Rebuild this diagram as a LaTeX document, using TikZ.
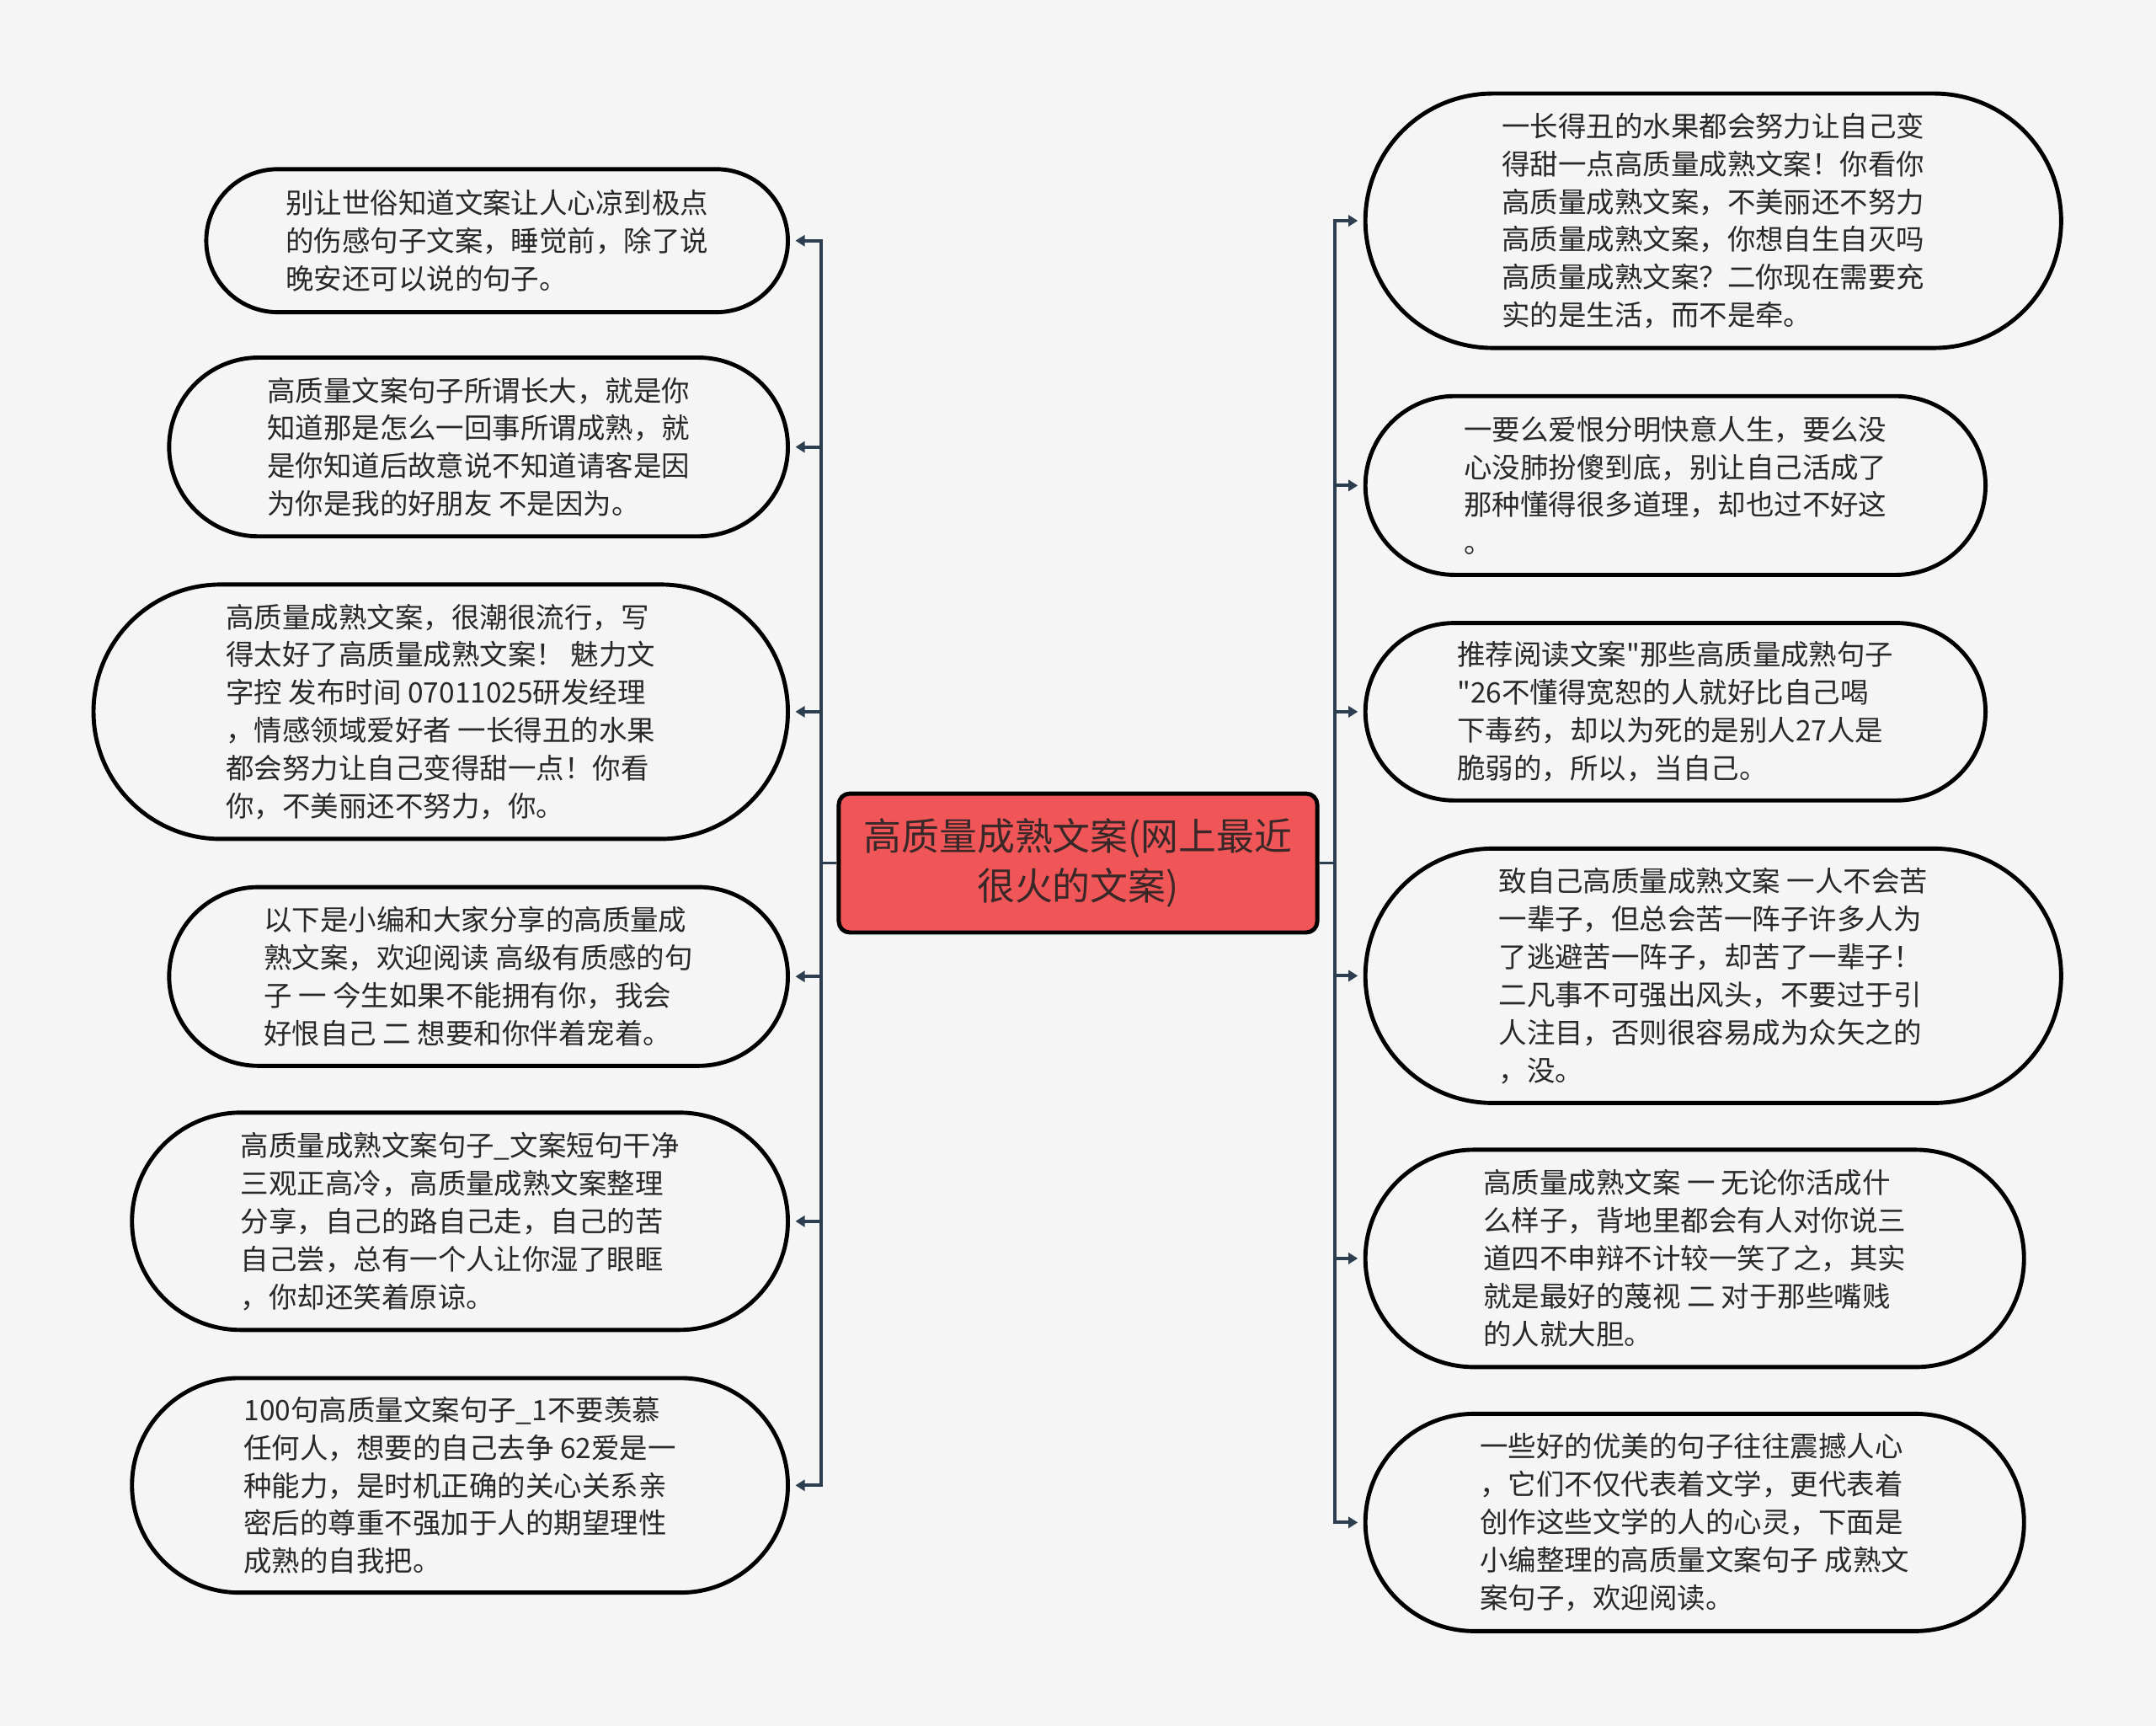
\documentclass[tikz,border=0pt]{standalone}
\usepackage{fontspec}
\newfontfamily\cjk{Noto Sans CJK SC}
\usetikzlibrary{shapes.misc,arrows.meta}
\definecolor{bg}{RGB}{245,245,245}
\definecolor{linecol}{RGB}{44,62,80}
\definecolor{centerred}{RGB}{240,86,88}
\definecolor{centertext}{RGB}{58,40,40}
\definecolor{textcol}{RGB}{40,40,40}
\tikzset{
  leaf/.style 2 args={rounded rectangle, rounded rectangle arc length=180,
    draw=black, line width=1.5pt, fill=bg, inner sep=0pt,
    minimum width=#1*0.5pt, minimum height=#2*0.5pt,
    font=\cjk\fontsize{10.25}{13.75}\selectfont, text=textcol, align=left},
  centerbox/.style={rectangle, rounded corners=4pt, draw=black, line width=1.5pt,
    fill=centerred, minimum width=174pt, minimum height=50.5pt, inner sep=0pt,
    font=\cjk\fontsize{13.75}{18}\selectfont, text=centertext, align=center},
  conn/.style={draw=linecol, line width=1.2pt, -{Triangle[length=3.4pt,width=4pt]}, shorten >=2pt}
}
\begin{document}
\begin{tikzpicture}[x=0.5pt,y=-0.5pt]
\fill[bg] (0,0) rectangle (1568,1255);
\useasboundingbox (0,0) rectangle (1568,1255);

\node[centerbox] (c) at (784,627.5) {高质量成熟文案(网上最近\\很火的文案)};

\node[leaf={423}{104}] (L1) at (361.5,175) {别让世俗知道文案让人心凉到极点\\的伤感句子文案，睡觉前，除了说\\晚安还可以说的句子。};
\node[leaf={450}{130}] (L2) at (348,325) {高质量文案句子所谓长大，就是你\\知道那是怎么一回事所谓成熟，就\\是你知道后故意说不知道请客是因\\为你是我的好朋友 不是因为。};
\node[leaf={505}{185}] (L3) at (320.5,517.5) {高质量成熟文案，很潮很流行，写\\得太好了高质量成熟文案！ 魅力文\\字控 发布时间 07011025研发经理\\，情感领域爱好者 一长得丑的水果\\都会努力让自己变得甜一点！你看\\你，不美丽还不努力，你。};
\node[leaf={450}{130}] (L4) at (348,710) {以下是小编和大家分享的高质量成\\熟文案，欢迎阅读 高级有质感的句\\子 一 今生如果不能拥有你，我会\\好恨自己 二 想要和你伴着宠着。};
\node[leaf={477}{158}] (L5) at (334.5,888) {高质量成熟文案句子\_文案短句干净\\三观正高冷，高质量成熟文案整理\\分享，自己的路自己走，自己的苦\\自己尝，总有一个人让你湿了眼眶\\，你却还笑着原谅。};
\node[leaf={477}{156}] (L6) at (334.5,1080) {100句高质量文案句子\_1不要羡慕\\任何人，想要的自己去争 62爱是一\\种能力，是时机正确的关心关系亲\\密后的尊重不强加于人的期望理性\\成熟的自我把。};

\node[leaf={506}{185}] (R1) at (1246,160.5) {一长得丑的水果都会努力让自己变\\得甜一点高质量成熟文案！你看你\\高质量成熟文案，不美丽还不努力\\高质量成熟文案，你想自生自灭吗\\高质量成熟文案？二你现在需要充\\实的是生活，而不是牵。};
\node[leaf={451}{130}] (R2) at (1218.5,353) {一要么爱恨分明快意人生，要么没\\心没肺扮傻到底，别让自己活成了\\那种懂得很多道理，却也过不好这\\。};
\node[leaf={451}{129}] (R3) at (1218.5,517.5) {推荐阅读文案"那些高质量成熟句子\\"26不懂得宽恕的人就好比自己喝\\下毒药，却以为死的是别人27人是\\脆弱的，所以，当自己。};
\node[leaf={506}{185}] (R4) at (1246,709.5) {致自己高质量成熟文案 一人不会苦\\一辈子，但总会苦一阵子许多人为\\了逃避苦一阵子，却苦了一辈子！\\二凡事不可强出风头，不要过于引\\人注目，否则很容易成为众矢之的\\，没。};
\node[leaf={479}{158}] (R5) at (1232.5,915) {高质量成熟文案 一 无论你活成什\\么样子，背地里都会有人对你说三\\道四不申辩不计较一笑了之，其实\\就是最好的蔑视 二 对于那些嘴贱\\的人就大胆。};
\node[leaf={479}{158}] (R6) at (1232.5,1107) {一些好的优美的句子往往震撼人心\\，它们不仅代表着文学，更代表着\\创作这些文学的人的心灵，下面是\\小编整理的高质量文案句子 成熟文\\案句子，欢迎阅读。};

\coordinate (lt) at (597,627.5);
\coordinate (rt) at (971,627.5);
\foreach \n in {L1,L2,L3,L4,L5,L6}
  \draw[conn] (c.west) -- (lt) |- (\n.east);
\foreach \n in {R1,R2,R3,R4,R5,R6}
  \draw[conn] (c.east) -- (rt) |- (\n.west);
\end{tikzpicture}
\end{document}
